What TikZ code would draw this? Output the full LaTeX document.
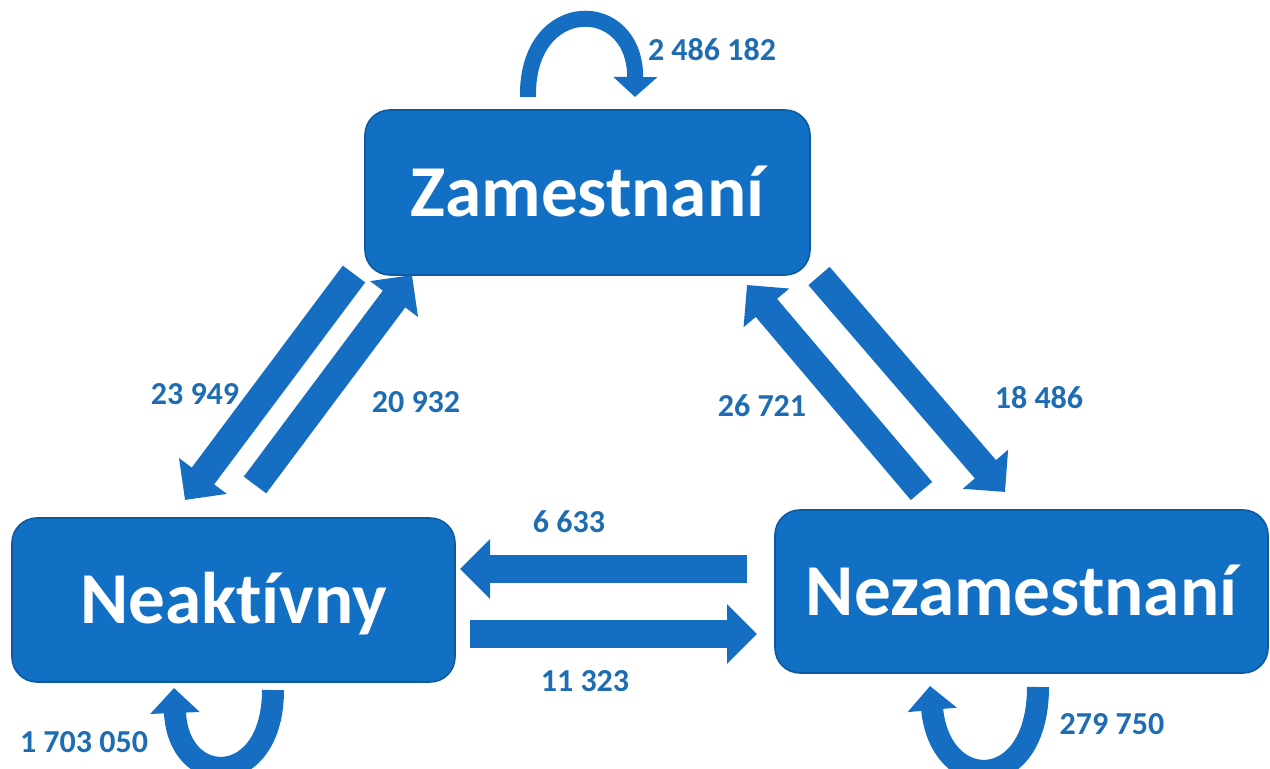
\documentclass[tikz,border=0pt]{standalone}
\usepackage{fontspec}
\setmainfont{Carlito}[Ligatures=NoCommon]
\usetikzlibrary{arrows.meta}

\definecolor{boxblue}{RGB}{17,111,196}
\definecolor{edgeblue}{RGB}{14,90,160}
\definecolor{flowblue}{RGB}{21,110,193}
\definecolor{numblue}{RGB}{30,108,178}

\tikzset{
    statebox/.style={rounded corners=12.5pt, fill=boxblue, draw=edgeblue, line width=0.8pt,
        text=white, font=\bfseries\fontsize{36.6}{40}\selectfont,
        text height=23.6pt, text depth=0pt, inner sep=0pt},
    flow/.style={draw=flowblue, line width=14pt, -{Triangle[length=15pt,width=29pt]}},
    loopflow/.style={draw=flowblue, line width=#1},
    flownum/.style={text=numblue, font=\bfseries\fontsize{16}{19}\selectfont, inner sep=0pt},
}

\begin{document}
\begin{tikzpicture}[x=0.5pt,y=-0.5pt]
        \useasboundingbox (0,0) rectangle (1270,769);
        \clip (0,0) rectangle (1270,769);

        % states
        \node[statebox, minimum width=222.5pt, minimum height=82.5pt] (zam) at (587.5,192.5) {Zamestnaní};
        \node[statebox, minimum width=221.5pt, minimum height=82pt] (neak) at (233.5,600) {Neaktívny};
        \node[statebox, minimum width=246.5pt, minimum height=81.5pt] (nezam) at (1021.5,591.5) {Nezamestnaní};

        % ends of the flows
        \coordinate (zn-tail) at (354,274);
        \coordinate (zn-tip) at (185,500);
        \coordinate (nz-tail) at (255,485);
        \coordinate (nz-tip) at (412,275);
        \coordinate (zu-tail) at (819,276);
        \coordinate (zu-tip) at (1005,492);
        \coordinate (uz-tail) at (921.5,491);
        \coordinate (uz-tip) at (747,285);
        \coordinate (un-tail) at (747,569);
        \coordinate (un-tip) at (460,569);
        \coordinate (nu-tail) at (470,634);
        \coordinate (nu-tip) at (757,634);

        % flows between states
        \draw[flow] (zn-tail) -- (zn-tip);
        \draw[flow] (nz-tail) -- (nz-tip);
        \draw[flow] (zu-tail) -- (zu-tip);
        \draw[flow] (uz-tail) -- (uz-tip);
        \draw[flow] (un-tail) -- (un-tip);
        \draw[flow] (nu-tail) -- (nu-tip);

        % staying in the same state
        \coordinate (zz-a) at (528,97);
        \coordinate (zz-b) at (635,97);
        \draw[loopflow=8pt, -{Triangle[length=10pt,width=21.5pt]}]
            (zz-a) .. controls (526,-4) and (636,-4) .. (zz-b);
        \coordinate (nn-a) at (273,690);
        \coordinate (nn-b) at (174,688);
        \draw[loopflow=11pt, -{Triangle[length=12.5pt,width=24pt]}]
            (nn-a) .. controls (273,790) and (178,790) .. (nn-b);
        \coordinate (uu-a) at (1038,687);
        \coordinate (uu-b) at (930,686);
        \draw[loopflow=11pt, -{Triangle[length=12pt,width=24pt]}]
            (uu-a) .. controls (1038,795) and (940,795) .. (uu-b);

        % counts
        \node[flownum] (n-zz) at (712,50) {2 486 182};
        \node[flownum] (n-zn) at (195,394) {23 949};
        \node[flownum] (n-nz) at (416,402) {20 932};
        \node[flownum] (n-uz) at (762,406) {26 721};
        \node[flownum] (n-zu) at (1039,398) {18 486};
        \node[flownum] (n-un) at (569,522) {6 633};
        \node[flownum] (n-nu) at (585,681) {11 323};
        \node[flownum] (n-nn) at (84,742) {1 703 050};
        \node[flownum] (n-uu) at (1112,724) {279 750};
    \end{tikzpicture}
\end{document}
